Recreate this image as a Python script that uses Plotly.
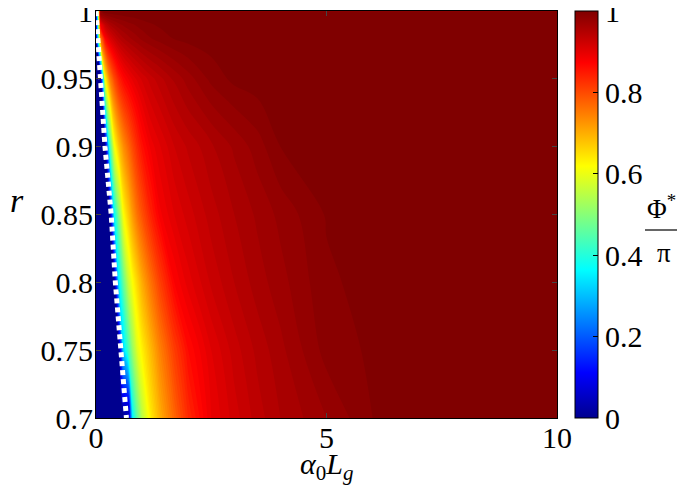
import plotly.graph_objects as go

# alpha0*Lg sample positions (columns) and reflectivity r (rows)
ALPHA_L = [0, 0.1, 0.2, 0.3, 0.4, 0.5, 0.6, 0.7, 0.8, 0.9, 1.0, 1.2, 1.4, 1.7,
           2.0, 2.5, 3.0, 3.5, 4.0, 5.0, 6.0, 7.0, 8.5, 10]
R_VALS = [0.7, 0.75, 0.8, 0.85, 0.9, 0.95, 0.98, 0.99, 1.0]

# Phi*/pi, one row per r value
PHI_070 = [0, 0, 0, 0, 0, 0, 0, 0, 0.37, 0.47, 0.55, 0.64, 0.70, 0.77,
           0.83, 0.89, 0.915, 0.935, 0.95, 0.97, 0.99, 0.993, 0.997, 1.0]
PHI_075 = [0, 0, 0, 0, 0, 0, 0.33, 0.43, 0.52, 0.59, 0.63, 0.69, 0.745, 0.81,
           0.86, 0.90, 0.925, 0.943, 0.957, 0.984, 0.992, 0.995, 0.998, 1.0]
PHI_080 = [0, 0, 0, 0, 0, 0.36, 0.47, 0.56, 0.62, 0.66, 0.70, 0.76, 0.81, 0.87,
           0.895, 0.922, 0.94, 0.955, 0.966, 0.988, 0.994, 0.996, 0.998, 1.0]
PHI_085 = [0, 0, 0, 0, 0.37, 0.50, 0.62, 0.67, 0.72, 0.76, 0.79, 0.84, 0.878, 0.90,
           0.915, 0.935, 0.95, 0.962, 0.973, 0.991, 0.995, 0.997, 0.998, 1.0]
PHI_090 = [0, 0, 0, 0.42, 0.61, 0.68, 0.73, 0.765, 0.80, 0.83, 0.855, 0.885, 0.90, 0.92,
           0.932, 0.948, 0.962, 0.975, 0.99, 0.995, 0.997, 0.998, 0.999, 1.0]
PHI_095 = [0, 0, 0.62, 0.74, 0.80, 0.84, 0.865, 0.88, 0.893, 0.903, 0.912, 0.926, 0.937, 0.952,
           0.965, 0.983, 0.993, 0.996, 0.997, 0.998, 0.999, 1.0, 1.0, 1.0]
PHI_098 = [0, 0.75, 0.87, 0.905, 0.925, 0.94, 0.95, 0.957, 0.963, 0.968, 0.973, 0.98, 0.985, 0.991,
           0.994, 0.996, 0.998, 0.999, 1.0, 1.0, 1.0, 1.0, 1.0, 1.0]
PHI_099 = [0, 0.88, 0.93, 0.95, 0.96, 0.967, 0.972, 0.976, 0.979, 0.982, 0.985, 0.989, 0.992, 0.995,
           0.997, 0.998, 0.999, 1.0, 1.0, 1.0, 1.0, 1.0, 1.0, 1.0]
PHI_100 = [0, 1.0, 1.0, 1.0, 1.0, 1.0, 1.0, 1.0, 1.0, 1.0, 1.0, 1.0, 1.0, 1.0,
           1.0, 1.0, 1.0, 1.0, 1.0, 1.0, 1.0, 1.0, 1.0, 1.0]

# threshold (dashed white line)
THR_R = [1.0, 0.95, 0.9, 0.85, 0.8, 0.7]
THR_X = [0, 0.09, 0.195, 0.33, 0.42, 0.66]

Y_TICKS = [0.7, 0.75, 0.8, 0.85, 0.9, 0.95, 1.0]
Y_TICKTEXT = ["0.7", "0.75", "0.8", "0.85", "0.9", "0.95", "1"]
X_TICKS = [0, 5, 10]
CB_TICKS = [0, 0.2, 0.4, 0.6, 0.8, 1.0]
CB_TICKTEXT = ["0", "0.2", "0.4", "0.6", "0.8", "1"]

z = [PHI_070, PHI_075, PHI_080, PHI_085, PHI_090, PHI_095, PHI_098, PHI_099, PHI_100]

# matlab-like jet
jet = [[0.0, "rgb(0,0,143)"], [0.111, "rgb(0,0,255)"], [0.365, "rgb(0,255,255)"],
       [0.619, "rgb(255,255,0)"], [0.873, "rgb(255,0,0)"], [1.0, "rgb(128,0,0)"]]

FONT = "Liberation Serif, Times New Roman, DejaVu Serif, serif"
FS = 30
# the page body adds an 8px margin, so the figure is made smaller
OFF = 8
W, H = 685 - 2 * OFF, 486 - OFF
L, T = 96 - OFF, 11 - OFF
pw, ph = 461, 407
R, B = W - L - pw, H - T - ph


def px(xp):
    # page pixel -> paper x
    return (xp - OFF - L) / pw


def py(yp):
    # page pixel -> paper y
    return (T + ph - (yp - OFF)) / ph


fig = go.Figure()
fig.add_trace(
    go.Contour(
        x=ALPHA_L,
        y=R_VALS,
        z=z,
        colorscale=jet,
        contours=dict(start=0.01, end=0.99, size=0.01, coloring="fill", showlines=False),
        line=dict(width=0),
        showscale=False,
        hoverinfo="skip",
    )
)
# invisible trace that only carries the colorbar (range 0..1)
fig.add_trace(
    go.Scatter(
        x=[None], y=[None], mode="markers", showlegend=False, hoverinfo="skip",
        marker=dict(
            color=[0, 1], cmin=0, cmax=1, colorscale=jet, showscale=True,
            colorbar=dict(
                x=px(575), xanchor="left", xpad=0,
                y=0.5, yanchor="middle", ypad=0,
                len=1, thickness=23,
                outlinecolor="black", outlinewidth=1,
                tickmode="array", tickvals=CB_TICKS, ticktext=CB_TICKTEXT,
                ticks="inside", ticklen=5, tickcolor="black",
                ticklabeloverflow="allow",
                tickfont=dict(family=FONT, size=FS, color="black"),
            ),
        ),
    )
)
fig.add_trace(
    go.Scatter(
        x=THR_X, y=THR_R, mode="lines",
        line=dict(color="white", width=5, dash="5px,4px"),
        showlegend=False, hoverinfo="skip",
    )
)

# colorbar label as a stacked fraction
fig.add_annotation(x=px(645), y=py(207), xref="paper", yref="paper", text="Φ<sup>*</sup>",
                   xanchor="left", showarrow=False, font=dict(family=FONT, size=27, color="black"))
fig.add_annotation(x=px(655), y=py(253), xref="paper", yref="paper", text="π",
                   xanchor="left", showarrow=False, font=dict(family=FONT, size=27, color="black"))
fig.add_shape(type="line", xref="paper", yref="paper", x0=px(645), x1=px(677),
              y0=py(230), y1=py(230), line=dict(color="black", width=1.2))

fig.add_annotation(x=px(8), y=py(200), xref="paper", yref="paper", text="<i>r</i>",
                   xanchor="left", showarrow=False, font=dict(family=FONT, size=34, color="black"))
fig.add_annotation(x=0.5, y=py(445), xref="paper", yref="paper", yanchor="top",
                   text="<i>α</i><sub>0</sub><i>L</i><sub><i>g</i></sub>",
                   showarrow=False, font=dict(family=FONT, size=30, color="black"))

fig.update_layout(
    width=W, height=H,
    margin=dict(l=L, r=R, t=T, b=B, pad=0, autoexpand=False),
    paper_bgcolor="white", plot_bgcolor="white",
    showlegend=False,
    xaxis=dict(range=[0, 10], tickvals=X_TICKS, ticks="inside", ticklen=5,
               showline=True, linecolor="black", linewidth=1, mirror="ticks",
               showgrid=False, zeroline=False, ticklabeloverflow="allow",
               ticklabelstandoff=-7,
               tickfont=dict(family=FONT, size=FS, color="black")),
    yaxis=dict(range=[0.7, 1.0001], tickvals=Y_TICKS, ticktext=Y_TICKTEXT,
               ticks="inside", ticklen=5,
               showline=True, linecolor="black", linewidth=1, mirror="ticks",
               showgrid=False, zeroline=False, ticklabeloverflow="allow",
               ticklabelstandoff=-4,
               tickfont=dict(family=FONT, size=FS, color="black")),
)

fig.write_html("out.html")
